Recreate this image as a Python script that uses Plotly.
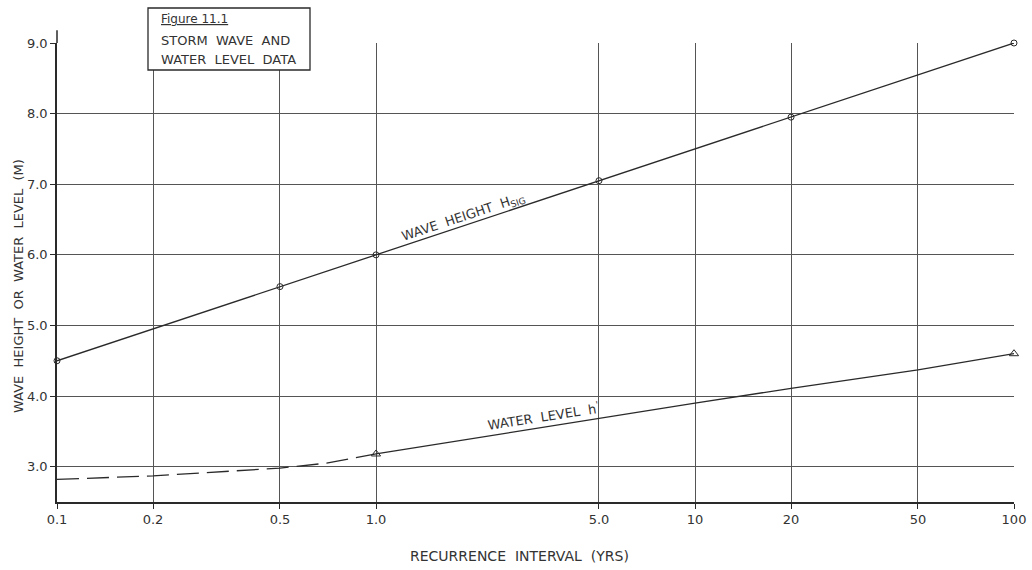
import plotly.graph_objects as go

# ---- data ----
wave_x = [0.1, 0.5, 1.0, 5.0, 20, 100]
wave_y = [4.5, 5.55, 6.0, 7.05, 7.95, 9.0]

water_dash_x = [0.1, 0.2, 0.5, 0.7, 1.0]
water_dash_y = [2.82, 2.87, 2.98, 3.05, 3.18]

water_x = [1.0, 5.0, 10, 20, 50, 100]
water_y = [3.18, 3.69, 3.90, 4.11, 4.37, 4.60]

water_mark_x = [1.0, 100]
water_mark_y = [3.18, 4.60]

x_tickvals = [0.1, 0.2, 0.5, 1.0, 5.0, 10, 20, 50, 100]
x_ticktext = ["0.1", "0.2", "0.5", "1.0", "5.0", "10", "20", "50", "100"]
y_tickvals = [3, 4, 5, 6, 7, 8, 9]
y_ticktext = ["3.0", "4.0", "5.0", "6.0", "7.0", "8.0", "9.0"]

INK = "#2a2a2a"
GRID = "#555555"
FONT = "DejaVu Sans"

fig = go.Figure()
fig.add_trace(go.Scatter(x=wave_x, y=wave_y, mode="lines+markers",
                         line=dict(color=INK, width=1.3),
                         marker=dict(symbol="circle-open", size=6, color=INK, line=dict(width=1)),
                         cliponaxis=False, showlegend=False))
fig.add_trace(go.Scatter(x=water_dash_x, y=water_dash_y, mode="lines",
                         line=dict(color=INK, width=1.3, dash="22px,8px"),
                         cliponaxis=False, showlegend=False))
fig.add_trace(go.Scatter(x=water_x, y=water_y, mode="lines",
                         line=dict(color=INK, width=1.3),
                         cliponaxis=False, showlegend=False))
fig.add_trace(go.Scatter(x=water_mark_x, y=water_mark_y, mode="markers",
                         marker=dict(symbol="triangle-up-open", size=8, color=INK, line=dict(width=1)),
                         cliponaxis=False, showlegend=False))

fig.update_xaxes(type="log", range=[-1, 2], tickvals=x_tickvals, ticktext=x_ticktext,
                 showgrid=True, gridcolor=GRID, gridwidth=1, zeroline=False,
                 showline=True, linecolor=INK, linewidth=1.5, automargin=False,
                 ticks="outside", ticklen=5, tickcolor=INK, tickwidth=1,
                 tickfont=dict(family=FONT, size=13, color="#333"))
fig.update_yaxes(range=[2.5, 9.0], tickvals=y_tickvals, ticktext=y_ticktext,
                 showgrid=True, gridcolor=GRID, gridwidth=1, zeroline=False,
                 showline=True, linecolor=INK, linewidth=1.5, automargin=False,
                 ticks="outside", ticklen=5, tickcolor=INK, tickwidth=1,
                 tickfont=dict(family=FONT, size=13, color="#333"))

# left axis extension above the top gridline
fig.add_shape(type="line", xref="paper", yref="paper", x0=0, x1=0, y0=1, y1=1.028,
              line=dict(color=INK, width=1.5))

# title box
fig.add_shape(type="rect", xref="paper", yref="paper",
              x0=(148 - 57) / 957, x1=(310 - 57) / 957,
              y0=(502 - 70) / 459, y1=(502 - 8) / 459,
              line=dict(color=INK, width=1.3), fillcolor="white", layer="above")

def ann(text, x, y, size=13, angle=0, xanchor="center"):
    fig.add_annotation(text=text, x=x, y=y, xref="paper", yref="paper", showarrow=False,
                       textangle=angle, xanchor=xanchor, yanchor="middle",
                       font=dict(family=FONT, size=size, color="#333"))

def px(xp):
    return (xp - 57) / 957

def py(yp):
    return (502 - yp) / 459

ann("<u>Figure 11.1</u>", px(159), py(19), size=12, xanchor="left")
ann("STORM  WAVE  AND", px(159), py(41), size=13, xanchor="left")
ann("WATER  LEVEL  DATA", px(159), py(59), size=13, xanchor="left")

ann("WAVE  HEIGHT  H<sub>SIG</sub>", px(463), py(217), size=13, angle=-18.4)
ann("WATER  LEVEL  h<sup>'</sup>", px(543), py(416), size=13, angle=-8.8)

ann("WAVE  HEIGHT  OR  WATER  LEVEL  (M)", px(18), py(286), size=13, angle=-90)
ann("RECURRENCE  INTERVAL  (YRS)", px(519), py(556), size=14)

fig.update_layout(width=1032, height=570, margin=dict(l=57, r=18, t=43, b=68),
                  plot_bgcolor="white", paper_bgcolor="white",
                  font=dict(family=FONT, color="#333"))

fig.write_html("out.html")
